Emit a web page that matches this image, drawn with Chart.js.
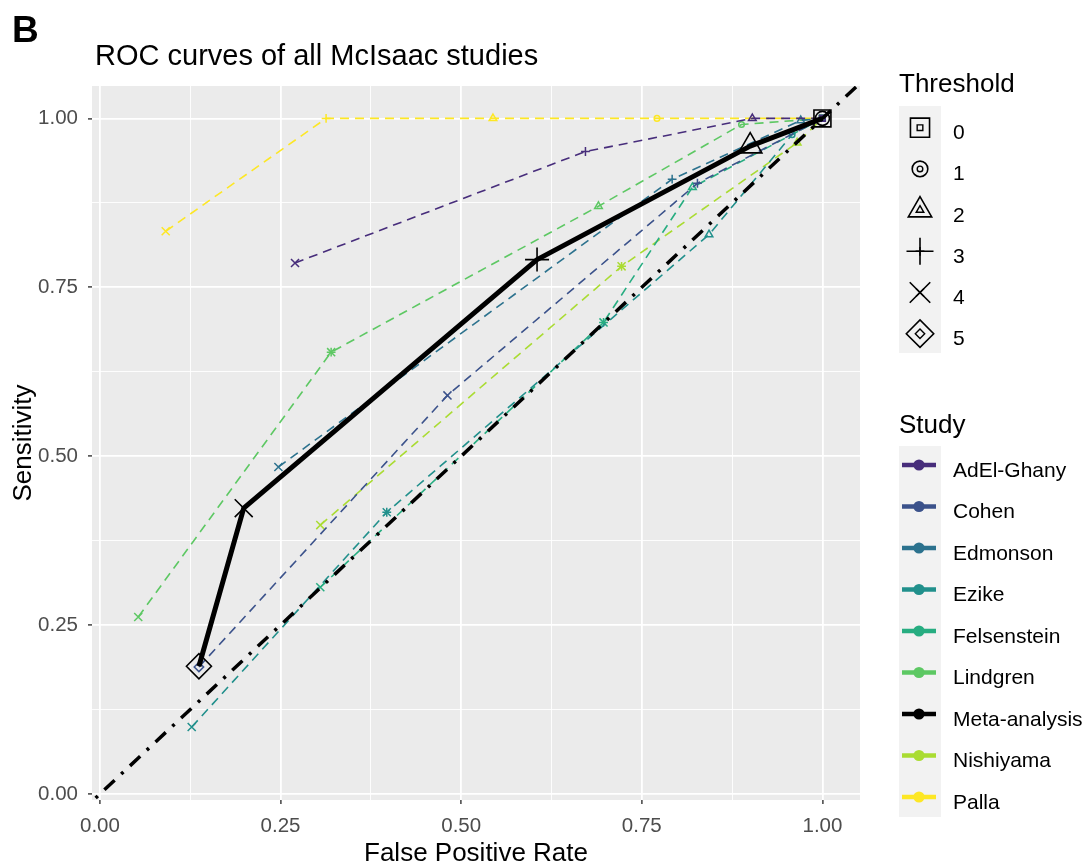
<!DOCTYPE html>
<html>
<head>
<meta charset="utf-8">
<script src="https://cdn.jsdelivr.net/npm/chart.js@4.4.1/dist/chart.umd.min.js"></script>
<style>
  html, body { margin: 0; padding: 0; background: #fff; }
  canvas { display: block; }
</style>
</head>
<body>
<canvas id="roc" width="1090" height="867"></canvas>
<script>
const FONT = "'Liberation Sans', Arial, sans-serif";

// legend order
const thresholds = [0, 1, 2, 3, 4, 5];
const studyNames = ['AdEl-Ghany', 'Cohen', 'Edmonson', 'Ezike', 'Felsenstein', 'Lindgren', 'Nishiyama', 'Palla'];
const studyColors = ['#472D7B', '#3B528B', '#2C728E', '#21908C', '#27AD81', '#5DC863', '#AADC32', '#FDE725'];
const legendNames = ['AdEl-Ghany', 'Cohen', 'Edmonson', 'Ezike', 'Felsenstein', 'Lindgren', 'Meta-analysis', 'Nishiyama', 'Palla'];
const legendColors = ['#472D7B', '#3B528B', '#2C728E', '#21908C', '#27AD81', '#5DC863', '#000000', '#AADC32', '#FDE725'];

// false positive rate / sensitivity / threshold
const adelFpr = [0.270, 0.672, 0.903, 1];
const adelSens = [0.786, 0.951, 1.000, 1];
const adelThr = [4, 3, 2, 0];

const cohenFpr = [0.137, 0.481, 0.827, 1];
const cohenSens = [0.188, 0.590, 0.904, 1];
const cohenThr = [5, 4, 3, 0];

const edmonsonFpr = [0.247, 0.792, 0.970, 1];
const edmonsonSens = [0.484, 0.910, 0.997, 1];
const edmonsonThr = [4, 3, 2, 0];

const ezikeFpr = [0.127, 0.397, 0.397, 0.843, 0.958, 1];
const ezikeSens = [0.099, 0.417, 0.417, 0.828, 0.976, 1];
const ezikeThr = [4, 4, 3, 2, 1, 0];

const felsensteinFpr = [0.305, 0.697, 0.697, 0.820, 1];
const felsensteinSens = [0.306, 0.698, 0.698, 0.898, 1];
const felsensteinThr = [4, 4, 3, 2, 0];

const lindgrenFpr = [0.053, 0.320, 0.320, 0.690, 0.888, 1];
const lindgrenSens = [0.262, 0.654, 0.654, 0.870, 0.991, 1];
const lindgrenThr = [4, 4, 3, 2, 1, 0];

const nishiyamaFpr = [0.305, 0.722, 0.722, 0.965, 1];
const nishiyamaSens = [0.398, 0.781, 0.781, 0.964, 1];
const nishiyamaThr = [4, 4, 3, 2, 0];

const pallaFpr = [0.091, 0.313, 0.544, 0.771, 1];
const pallaSens = [0.833, 1.000, 1.000, 1.000, 1];
const pallaThr = [4, 3, 2, 1, 0];

const metaFpr = [0.137, 0.199, 0.605, 0.900, 1, 1];
const metaSens = [0.189, 0.423, 0.791, 0.959, 1, 1];
const metaThr = [5, 4, 3, 2, 1, 0];

const diagonal = [-0.1, 1.1];

const gridValues = [0, 0.125, 0.25, 0.375, 0.5, 0.625, 0.75, 0.875, 1];
const majorTicks = [0, 0.25, 0.5, 0.75, 1];

const studyFpr = [adelFpr, cohenFpr, edmonsonFpr, ezikeFpr, felsensteinFpr, lindgrenFpr, nishiyamaFpr, pallaFpr];
const studySens = [adelSens, cohenSens, edmonsonSens, ezikeSens, felsensteinSens, lindgrenSens, nishiyamaSens, pallaSens];
const studyThr = [adelThr, cohenThr, edmonsonThr, ezikeThr, felsensteinThr, lindgrenThr, nishiyamaThr, pallaThr];

// threshold -> shape (ggplot shapes 0..5)
const shapeOf = ['rect', 'circle', 'triangle', 'cross', 'crossRot', 'rectRot'];
const smallRadius = [4, 2.8, 4.4, 4.4, 5.7, 4.7];
const bigRadius = [12, 7, 13.5, 12, 12.7, 12.5];
const legendRadius = [13.5, 7.8, 13.5, 13.5, 14.5, 13.7];

const isMajor = v => majorTicks.some(m => Math.abs(m - v) < 1e-9);
const pts = (xs, ys) => xs.map((x, i) => ({ x, y: ys[i] }));
const clear = 'rgba(0,0,0,0)';

const datasets = [
  {
    label: 'Meta-analysis',
    data: pts(metaFpr, metaSens),
    showLine: true,
    borderColor: '#000',
    borderWidth: 5,
    borderJoinStyle: 'round',
    backgroundColor: clear,
    pointStyle: metaThr.map(t => shapeOf[t]),
    pointRadius: metaThr.map(t => bigRadius[t]),
    pointBorderColor: '#000',
    pointBackgroundColor: clear,
    pointBorderWidth: 1.6
  },
  {
    label: 'diagonal',
    data: pts(diagonal, diagonal),
    showLine: true,
    borderColor: '#000',
    borderWidth: 3.5,
    borderDash: [14, 9, 3, 9],
    pointRadius: 0
  }
];

studyNames.forEach((name, s) => {
  datasets.push({
    label: name,
    data: pts(studyFpr[s], studySens[s]),
    showLine: true,
    borderColor: studyColors[s],
    borderWidth: 1.6,
    borderDash: [9, 6],
    backgroundColor: clear,
    pointStyle: studyThr[s].map(t => shapeOf[t]),
    pointRadius: studyThr[s].map(t => smallRadius[t]),
    pointBorderColor: studyColors[s],
    pointBackgroundColor: clear,
    pointBorderWidth: 1.5
  });
});

function axis(min, max, title, isX) {
  return {
    type: 'linear',
    min: min,
    max: max,
    afterBuildTicks: a => { a.ticks = gridValues.map(v => ({ value: v })); },
    afterFit: a => { if (isX) a.height = 67; else a.width = 92; },
    ticks: {
      autoSkip: false,
      maxRotation: 0,
      padding: 10,
      color: '#4D4D4D',
      font: { family: FONT, size: 20.5 },
      callback: v => isMajor(v) ? v.toFixed(2) : ''
    },
    grid: {
      color: '#FFFFFF',
      lineWidth: c => (c.tick && isMajor(c.tick.value)) ? 1.8 : 0.9,
      tickColor: c => (c.tick && isMajor(c.tick.value)) ? '#333333' : clear,
      tickLength: 4,
      tickWidth: 1.4
    },
    border: { display: false },
    title: {
      display: true,
      text: title,
      color: '#000',
      font: { family: FONT, size: 26, lineHeight: 1 },
      padding: isX ? { top: 0, bottom: 0 } : { top: 11, bottom: 0 }
    }
  };
}

function drawShape(ctx, style, radius, color, width, x, y) {
  ctx.save();
  ctx.strokeStyle = color;
  ctx.fillStyle = clear;
  ctx.lineWidth = width;
  Chart.helpers.drawPoint(ctx, { pointStyle: style, rotation: 0, radius: radius, borderWidth: width }, x, y);
  ctx.restore();
}

const decor = {
  id: 'decor',
  beforeDraw(chart) {
    const { ctx, chartArea: a } = chart;
    ctx.save();
    ctx.fillStyle = '#FFFFFF';
    ctx.fillRect(0, 0, chart.width, chart.height);
    ctx.fillStyle = '#EBEBEB';
    ctx.fillRect(a.left, a.top, a.right - a.left, a.bottom - a.top);
    ctx.restore();
  },
  afterDraw(chart) {
    const ctx = chart.ctx;
    ctx.save();
    ctx.textBaseline = 'alphabetic';
    ctx.textAlign = 'left';
    ctx.fillStyle = '#000';

    ctx.font = 'bold 37px ' + FONT;
    ctx.fillText('B', 12, 42);
    ctx.font = '29px ' + FONT;
    ctx.fillText('ROC curves of all McIsaac studies', 95, 65);

    // threshold legend
    ctx.font = '26px ' + FONT;
    ctx.fillText('Threshold', 899, 92);
    ctx.fillStyle = '#F2F2F2';
    ctx.fillRect(899, 106, 42, 247);
    thresholds.forEach((t, i) => {
      const yl = 131.7 + 41.2 * i;
      drawShape(ctx, shapeOf[t], legendRadius[t], '#000', 1.6, 920, yl - 4);
      drawShape(ctx, shapeOf[t], smallRadius[t], '#000', 1.4, 920, yl - 4);
      ctx.fillStyle = '#000';
      ctx.font = '21px ' + FONT;
      ctx.fillText(String(t), 953, yl + 7.5);
    });

    // study legend
    ctx.fillStyle = '#000';
    ctx.font = '26px ' + FONT;
    ctx.fillText('Study', 899, 433);
    ctx.fillStyle = '#F2F2F2';
    ctx.fillRect(899, 446, 42, 371);
    legendNames.forEach((name, i) => {
      const yl = 469 + 41.5 * i;
      const yk = yl - 4;
      ctx.strokeStyle = legendColors[i];
      ctx.lineWidth = 4.5;
      ctx.beginPath();
      ctx.moveTo(902, yk);
      ctx.lineTo(936, yk);
      ctx.stroke();
      ctx.fillStyle = legendColors[i];
      ctx.beginPath();
      ctx.arc(919, yk, 5.6, 0, Math.PI * 2);
      ctx.fill();
      ctx.fillStyle = '#000';
      ctx.font = '21px ' + FONT;
      ctx.fillText(name, 953, yl + 7.5);
    });
    ctx.restore();
  }
};

new Chart(document.getElementById('roc').getContext('2d'), {
  type: 'scatter',
  data: { datasets },
  options: {
    responsive: false,
    animation: false,
    layout: { padding: { top: 86, right: 230, bottom: 0, left: 0 } },
    scales: {
      x: axis(-0.011, 1.052, 'False Positive Rate', true),
      y: axis(-0.009, 1.048, 'Sensitivity', false)
    },
    plugins: {
      legend: { display: false },
      tooltip: { enabled: false }
    }
  },
  plugins: [decor]
});
</script>
</body>
</html>
